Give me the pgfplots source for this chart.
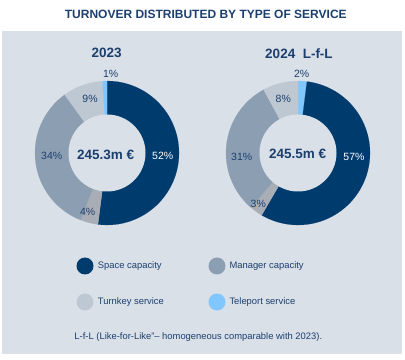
\documentclass[border=0pt]{standalone}
\usepackage{pgfplots}
\pgfplotsset{compat=1.18}
\usepackage{fontspec}
\setmainfont{Liberation Sans}
\definecolor{navy}{HTML}{003B6E}
\definecolor{mgr}{HTML}{8C9FB2}
\definecolor{turnk}{HTML}{BEC8D3}
\definecolor{tele}{HTML}{80C6FF}
\definecolor{other}{HTML}{A9ADB5}
\definecolor{panel}{HTML}{D9E0E8}
\definecolor{tnavy}{HTML}{1C3F6E}
% seg{start cumulative %}{end cumulative %}{degrees per %}{colour}
\newcommand\seg[4]{%
  \addplot[draw=#4, line width=0.1pt, fill=#4, domain={90-#3*(#2)}:{90-#3*(#1)},
    samples=90, variable=\t] ({cos(\t)},{sin(\t)}) -- (axis cs:0,0) -- cycle;}
\pgfplotsset{donut/.style={hide axis, scale only axis, width=172.8bp, height=172.8bp,
  xmin=-1.2, xmax=1.2, ymin=-1.2, ymax=1.2, anchor=center, clip=false}}
\newcommand\fs[1]{\fontsize{#1bp}{#1bp}\selectfont}
\begin{document}
\begin{tikzpicture}[x=1bp,y=1bp]
\useasboundingbox (0,0) rectangle (405,360);
\fill[white] (0,0) rectangle (405,360);
\fill[panel] (2,6) rectangle (402,329);
\node[text=tnavy, font=\fs{12}\bfseries] at (205.8,345.7) {TURNOVER DISTRIBUTED BY TYPE OF SERVICE};
\node[text=tnavy, font=\fs{13.5}\bfseries] at (106.7,306.7) {2023};
\node[text=tnavy, font=\fs{13.5}\bfseries] at (299,306.7) {2024\ \ L-f-L};
% 2023: space 52, other 4, manager 34, turnkey 9, teleport 1
\begin{axis}[donut, at={(107bp,207bp)}]
\seg{0}{52}{3.6}{navy}
\seg{52}{56}{3.6}{other}
\seg{56}{90}{3.6}{mgr}
\seg{90}{99}{3.6}{turnk}
\seg{99}{100}{3.6}{tele}
\fill[panel] (axis cs:0,0) circle[radius=38.5bp];
\end{axis}
% 2024: teleport 2, space 57, other 3, manager 31, turnkey 8
\begin{axis}[donut, at={(298bp,207bp)}]
\seg{0}{2}{3.5644}{tele}
\seg{2}{59}{3.5644}{navy}
\seg{59}{62}{3.5644}{other}
\seg{62}{93}{3.5644}{mgr}
\seg{93}{101}{3.5644}{turnk}
\fill[panel] (axis cs:0,0) circle[radius=38.5bp];
\end{axis}
\begin{scope}[every node/.style={font=\fs{10.5}, text=tnavy}]
\node at (110.7,286) {1\%};
\node at (90,261) {9\%};
\node at (51.7,204) {34\%};
\node at (87.7,148.3) {4\%};
\node[text=white] at (162.7,204) {52\%};
\node at (301.7,286) {2\%};
\node at (283.3,260.7) {8\%};
\node at (241.7,203.3) {31\%};
\node at (258.3,156) {3\%};
\node[text=white] at (354,203.3) {57\%};
\end{scope}
\node[text=tnavy, font=\fs{13.5}\bfseries] at (105.7,205) {245.3m €};
\node[text=tnavy, font=\fs{13.5}\bfseries] at (297.7,206) {245.5m €};
% legend
\fill[navy] (85,94) circle[radius=8.5];
\fill[mgr] (217,94) circle[radius=8.5];
\fill[turnk] (85,58) circle[radius=8.5];
\fill[tele] (217,58) circle[radius=8.5];
\begin{scope}[every node/.style={font=\fs{9.4}, text=tnavy, anchor=west, inner sep=0pt}]
\node at (97.7,94) {Space capacity};
\node at (229.3,94) {Manager capacity};
\node at (97.7,58) {Turnkey service};
\node at (229.3,58) {Teleport service};
\node at (74.3,23) {L-f-L (Like-for-Like”– homogeneous comparable with 2023).};
\end{scope}
\end{tikzpicture}
\end{document}
